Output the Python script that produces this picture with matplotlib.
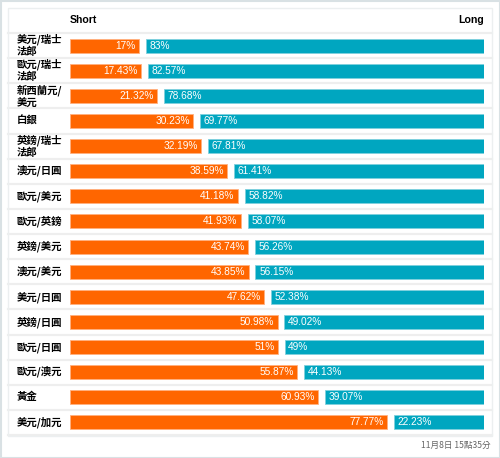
import matplotlib
matplotlib.use("Agg")
import matplotlib.pyplot as plt
from matplotlib.patches import Rectangle
from matplotlib.transforms import blended_transform_factory

plt.rcParams['font.family'] = ['Noto Sans CJK TC', 'DejaVu Sans']

pairs = ["美元/瑞士\n法郎", "歐元/瑞士\n法郎", "新西蘭元/\n美元", "白銀", "英鎊/瑞士\n法郎",
         "澳元/日圓", "歐元/美元", "歐元/英鎊", "英鎊/美元", "澳元/美元", "美元/日圓",
         "英鎊/日圓", "歐元/日圓", "歐元/澳元", "黃金", "美元/加元"]
short_pct = [17, 17.43, 21.32, 30.23, 32.19, 38.59, 41.18, 41.93, 43.74, 43.85,
             47.62, 50.98, 51, 55.87, 60.93, 77.77]
long_pct = [83, 82.57, 78.68, 69.77, 67.81, 61.41, 58.82, 58.07, 56.26, 56.15,
            52.38, 49.02, 49, 44.13, 39.07, 22.23]
header = ["Short", "Long"]
timestamp = "11月8日 15點35分"

W, H = 500, 458
ORANGE = "#ff6600"
TEAL = "#00a6c0"
GAP = 1.7
LATIN = ["Liberation Sans", "DejaVu Sans"]

fig = plt.figure(figsize=(W / 100, H / 100), dpi=100)
fig.patch.set_facecolor("white")

# outer frame and inner panel
fig.add_artist(Rectangle((0.5 / W, 0.5 / H), 1 - 1 / W, 1 - 1 / H, transform=fig.transFigure,
                         fill=False, edgecolor="#d9e1e4", linewidth=1.5))
fig.add_artist(Rectangle((8 / W, 1 - 436 / H), 484 / W, 428 / H, transform=fig.transFigure,
                         fill=False, edgecolor="#eceff0", linewidth=1.0))

ax = fig.add_axes([70 / W, 1 - 435 / H, 414 / W, 402 / H])
ax.set_xlim(0, 100 + GAP)
ax.set_ylim(len(pairs) - 0.5, -0.5)
ax.axis("off")

y = list(range(len(pairs)))
ax.barh(y, short_pct, height=0.56, color=ORANGE, edgecolor="#ffb080", linewidth=0.6)
ax.barh(y, long_pct, left=[s + GAP for s in short_pct], height=0.56, color=TEAL,
        edgecolor="#80d0dd", linewidth=0.6)

lab_tr = blended_transform_factory(fig.transFigure, ax.transData)
sep_tr = blended_transform_factory(ax.transAxes, ax.transData)
x0 = (8 - 70) / 414
x1 = (492 - 70) / 414
for i, (name, s, l) in enumerate(zip(pairs, short_pct, long_pct)):
    ax.text(s - 0.8, i, f"{s:g}%", color="white", ha="right", va="center",
            fontsize=7.3, family=LATIN)
    ax.text(s + GAP + 0.9, i, f"{l:g}%", color="white", ha="left", va="center",
            fontsize=7.3, family=LATIN)
    ax.text(17 / W, i, name, transform=lab_tr, ha="left", va="center",
            fontsize=7.5, fontweight="bold", linespacing=1.2)
    ax.plot([x0, x1], [i - 0.5, i - 0.5], transform=sep_tr, color="#eeeeee",
            linewidth=1.6, clip_on=False)
ax.plot([x0, x1], [len(pairs) - 0.5] * 2, transform=sep_tr, color="#eeeeee",
        linewidth=1.6, clip_on=False)

fig.text(70 / W, 1 - 20 / H, header[0], ha="left", va="center", fontsize=7.6,
         fontweight="bold", family=LATIN)
fig.text(484 / W, 1 - 20 / H, header[1], ha="right", va="center", fontsize=7.6,
         fontweight="bold", family=LATIN)
fig.text(491 / W, 1 - 445 / H, timestamp, ha="right", va="center", fontsize=6.2,
         color="#666666")

fig.savefig("out.png", dpi=100)
